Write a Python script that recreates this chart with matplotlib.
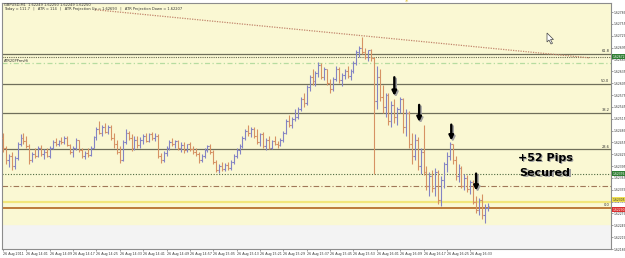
import matplotlib
matplotlib.use("Agg")
import matplotlib.pyplot as plt
import matplotlib.transforms as mtransforms
from matplotlib.patches import Polygon
import numpy as np

# GBPUSD M1 bars, prices in points (1e-5) above 1.62000
bar_open = [465, 440, 410, 420, 395, 415, 450, 465, 458, 445, 410, 425, 420, 440, 425, 430, 420, 440, 455, 450,
            458, 455, 465, 448, 430, 440, 460, 435, 420, 428, 422, 442, 468, 490, 480, 495, 482, 495, 465, 450,
            430, 410, 455, 480, 465, 440, 462, 448, 460, 470, 458, 475, 465, 472, 420, 410, 428, 440, 455, 450,
            458, 440, 448, 435, 450, 438, 430, 425, 410, 420, 435, 445, 430, 405, 385, 395, 388, 398, 390, 405,
            420, 435, 445, 465, 485, 478, 490, 470, 455, 475, 445, 460, 442, 458, 452, 448, 460, 480, 510, 500,
            515, 520, 540, 565, 555, 595, 620, 610, 630, 650, 620, 640, 605, 590, 615, 640, 612, 625, 635, 622,
            635, 655, 685, 695, 685, 670, 688, 668, 560, 620, 570, 545, 575, 510, 550, 520, 540, 565, 495, 530,
            450, 420, 460, 395, 430, 380, 345, 370, 340, 380, 310, 360, 400, 420, 450, 410, 370, 390, 345, 365,
            338, 355, 305, 285, 310, 270, 290]
bar_high = [478, 445, 425, 430, 420, 455, 475, 480, 470, 450, 430, 440, 445, 448, 438, 440, 445, 460, 465, 462,
            468, 470, 470, 452, 445, 465, 462, 440, 432, 440, 445, 470, 495, 510, 500, 505, 498, 500, 480, 462,
            445, 460, 490, 485, 475, 470, 470, 468, 475, 478, 480, 482, 478, 475, 428, 432, 445, 462, 465, 462,
            462, 455, 455, 452, 455, 445, 440, 430, 425, 440, 448, 450, 435, 410, 400, 405, 402, 405, 410, 425,
            440, 450, 470, 490, 500, 495, 495, 488, 480, 482, 465, 470, 462, 472, 458, 465, 485, 515, 525, 520,
            540, 545, 570, 580, 600, 625, 640, 635, 658, 655, 645, 642, 615, 620, 648, 645, 630, 640, 648, 640,
            660, 690, 700, 723, 695, 690, 692, 672, 648, 640, 600, 580, 580, 560, 565, 545, 570, 568, 540, 535,
            480, 475, 468, 440, 500, 395, 380, 385, 390, 385, 370, 405, 430, 457, 452, 420, 400, 395, 375, 372,
            360, 360, 320, 315, 325, 300, 302]
bar_low = [430, 400, 392, 386, 388, 410, 445, 452, 440, 400, 405, 415, 418, 420, 412, 418, 415, 438, 445, 445,
           450, 452, 445, 425, 418, 435, 430, 415, 412, 418, 420, 440, 462, 475, 472, 478, 476, 460, 440, 425,
           402, 408, 450, 460, 432, 435, 440, 440, 452, 455, 455, 462, 458, 415, 402, 405, 420, 436, 445, 440,
           435, 430, 428, 430, 432, 425, 420, 402, 405, 415, 430, 425, 400, 380, 378, 382, 382, 385, 386, 400,
           415, 425, 440, 460, 470, 468, 465, 450, 445, 440, 435, 438, 438, 448, 440, 445, 455, 475, 495, 492,
           510, 515, 535, 545, 550, 585, 600, 598, 620, 615, 612, 600, 580, 585, 610, 605, 598, 615, 618, 612,
           630, 650, 670, 680, 665, 660, 662, 375, 540, 560, 530, 520, 500, 495, 505, 500, 530, 480, 470, 440,
           400, 410, 385, 375, 372, 335, 320, 330, 320, 300, 295, 340, 380, 410, 400, 360, 355, 340, 335, 330,
           325, 300, 275, 270, 260, 252, 280]
bar_close = [440, 410, 420, 395, 415, 450, 465, 458, 445, 410, 425, 420, 440, 425, 430, 420, 440, 455, 450, 458,
             455, 465, 448, 430, 440, 460, 435, 420, 428, 422, 442, 468, 490, 480, 495, 482, 495, 465, 450, 430,
             410, 455, 480, 465, 440, 462, 448, 460, 470, 458, 475, 465, 472, 420, 410, 428, 440, 455, 450, 458,
             440, 448, 435, 450, 438, 430, 425, 410, 420, 435, 445, 430, 405, 385, 395, 388, 398, 390, 405, 420,
             435, 445, 465, 485, 478, 490, 470, 455, 475, 445, 460, 442, 458, 452, 448, 460, 480, 510, 500, 515,
             520, 540, 565, 555, 595, 620, 610, 630, 650, 620, 640, 605, 590, 615, 640, 612, 625, 635, 622, 635,
             655, 685, 695, 685, 670, 688, 668, 560, 620, 570, 545, 575, 510, 550, 520, 540, 565, 495, 530, 450,
             420, 460, 395, 430, 380, 345, 370, 340, 380, 310, 360, 400, 420, 450, 410, 370, 390, 345, 365, 338,
             355, 305, 285, 310, 270, 290, 295]

time_labels = ["26 Aug 2011", "26 Aug 14:01", "26 Aug 14:09", "26 Aug 14:17", "26 Aug 14:25", "26 Aug 14:33",
               "26 Aug 14:41", "26 Aug 14:49", "26 Aug 14:57", "26 Aug 15:05", "26 Aug 15:13", "26 Aug 15:21",
               "26 Aug 15:29", "26 Aug 15:37", "26 Aug 15:45", "26 Aug 15:53", "26 Aug 16:01", "26 Aug 16:09",
               "26 Aug 16:17", "26 Aug 16:25", "26 Aug 16:33"]
price_ticks = [1.62185 + 0.0003 * k for k in range(21)]

fib_names = ["0.0", "23.6", "38.2", "50.0", "61.8"]
fib_levels = [1.62290, 1.62437, 1.62530, 1.62604, 1.62679]
atr_up_dotted = 1.62672
atr_prev_line = 1.62657
atr_down_dotted = 1.62376
mid_dashdot = 1.62345
yellow_level = 1.62305
zone_bottom = 1.62249
trend_x = [31.5, 201.0]
trend_y = [1.62791, 1.62669]
arrow_x = [134.0, 142.5, 153.5, 162.0]
arrow_tail = [1.62620, 1.62550, 1.62500, 1.62376]
arrow_tip = [1.62573, 1.62507, 1.62460, 1.62333]

W, H = 625, 258
fig = plt.figure(figsize=(W / 100, H / 100), dpi=100, facecolor="white")
ax = fig.add_axes([2 / W, 1 - 249 / H, 609 / W, 246 / H])
ax.set_facecolor("#f3f3f3")

o = 1.62 + np.array(bar_open) / 1e5
h = 1.62 + np.array(bar_high) / 1e5
l = 1.62 + np.array(bar_low) / 1e5
c = 1.62 + np.array(bar_close) / 1e5
x = np.arange(len(o))

ax.axhspan(zone_bottom, 1.7, color="#faf8d3", zorder=0)

# horizontal levels
for lvl in fib_levels[1:]:
    ax.axhline(lvl, color="#6f6f5a", lw=0.9, zorder=1)
ax.axhline(fib_levels[0], color="#b8702e", lw=1.3, zorder=1)
ax.axhline(yellow_level, color="#f2e67a", lw=1.6, zorder=1)
ax.axhline(atr_up_dotted, color="#6b6b50", lw=0.8, ls=(0, (1, 1)), zorder=1)
ax.axhline(atr_prev_line, color="#b6dca0", lw=0.9, ls=(0, (4, 2, 1, 2)), zorder=1)
ax.axhline(atr_down_dotted, color="#4f6a40", lw=0.8, ls=(0, (1, 1.5)), zorder=1)
ax.axhline(mid_dashdot, color="#a07858", lw=0.8, ls=(0, (5, 2, 1, 2)), zorder=1)
ax.plot(trend_x, trend_y, color="#c2866c", lw=0.9, ls=(0, (1, 1)), zorder=1)

for lvl, name in zip(fib_levels, fib_names):
    ax.text(207.6, lvl + 0.00002, name, fontsize=2.6, color="#333333", ha="right", va="bottom")

# OHLC bars
cols = np.where(c >= o, "#8484c4", "#d69264")
ax.vlines(x, l, h, colors=cols, lw=0.8, zorder=3)
ax.hlines(o, x - 0.5, x, colors=cols, lw=0.8, zorder=3)
ax.hlines(c, x, x + 0.5, colors=cols, lw=0.8, zorder=3)

# arrows with a soft shadow
for xa, t0, t1 in zip(arrow_x, arrow_tail, arrow_tip):
    ax.annotate("", xy=(xa + 0.5, t1 - 0.00004), xytext=(xa + 0.5, t0 - 0.00004),
                arrowprops=dict(arrowstyle="-|>", color="#a0a0a0", lw=1.7, mutation_scale=6.5,
                                shrinkA=0, shrinkB=0), zorder=4)
    ax.annotate("", xy=(xa, t1), xytext=(xa, t0),
                arrowprops=dict(arrowstyle="-|>", color="black", lw=1.7, mutation_scale=6.5,
                                shrinkA=0, shrinkB=0), zorder=5)

for txt, yy in [("+52 Pips", 1.62416), ("Secured", 1.62378)]:
    ax.text(186.1, yy - 0.00003, txt, fontsize=8, fontweight="bold", color="#a0a0a0",
            ha="center", va="center", zorder=4)
    ax.text(185.6, yy, txt, fontsize=8, fontweight="bold", color="black",
            ha="center", va="center", zorder=5)

ax.set_xlim(-0.35, 208.2)
ax.set_ylim(1.621863, 1.62808)

ax.set_xticks(np.arange(0, 8 * len(time_labels), 8))
ax.set_xticklabels(time_labels, fontsize=2.3, color="#333333", ha="left")
ax.yaxis.tick_right()
ax.set_yticks(price_ticks)
ax.set_yticklabels(["%.5f" % p for p in price_ticks], fontsize=2.2, color="#333333")
ax.tick_params(axis="both", length=1.2, width=0.5, pad=0.8, colors="#777777", labelcolor="#333333")
for s in ax.spines.values():
    s.set_color("#8c8c8c")
    s.set_linewidth(0.8)

# price boxes on the right axis
trans = mtransforms.blended_transform_factory(ax.transAxes, ax.transData)
boxes = [(1.62672, "1.62672", "#2e7d32", "white"), (1.62376, "1.62376", "#2e7d32", "white"),
         (1.62310, "1.62305", "#f0e050", "#333333"), (1.62285, "1.62290", "#d93030", "white")]
for yy, txt, fc, tc in boxes:
    ax.text(1.002, yy, txt, transform=trans, fontsize=2.2, color=tc, ha="left", va="center",
            bbox=dict(boxstyle="square,pad=0.15", fc=fc, ec="none"), clip_on=False, zorder=6)

# header texts
fig.text(4 / W, 1 - 4.5 / H, "GBPUSD,M1  1.62249 1.62250 1.62249 1.62250", fontsize=2.6,
         color="#333333", va="center")
fig.text(4 / W, 1 - 9 / H, "Today = 111.7   |   ATR = 114   |   ATR Projection Up = 1.62693   |   "
         "ATR Projection Down = 1.62207", fontsize=2.6, color="#333333", va="center")
fig.text(4 / W, 1 - 61 / H, "ATR20PPrevHi", fontsize=2.6, color="#333333", va="center")
fig.text(407 / W, 1 - 2 / H, "*", fontsize=5, color="#e0c030", ha="center", va="center")

# mouse cursor
cx, cy = 547, 33
pts = [(0, 0), (0, 9), (2, 7), (4, 11), (5.5, 10.3), (3.5, 6.5), (6.5, 6.5)]
poly = Polygon([((cx + px) / W, 1 - (cy + py) / H) for px, py in pts], closed=True,
               transform=fig.transFigure, fc="white", ec="#444444", lw=0.5)
fig.patches.append(poly)

fig.savefig("out.png", dpi=100, facecolor=fig.get_facecolor())
